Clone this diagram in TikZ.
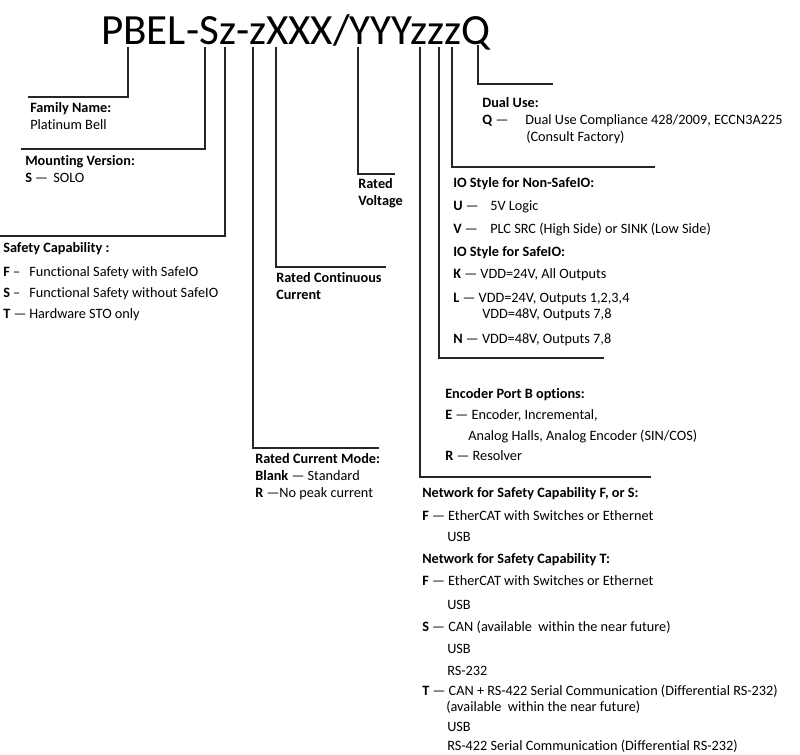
\documentclass[tikz,border=0pt]{standalone}
\usepackage{fontspec}
\setmainfont{Carlito}[Ligatures=CommonOff]
\begin{document}
\begin{tikzpicture}[x=0.75pt, y=-0.75pt,
  lead/.style={line width=1.1pt, black!85},
  txt/.style={anchor=base west, inner sep=0pt, font=\fontsize{10.7}{13}\selectfont},
  head/.style={txt, font=\fontsize{10.7}{13}\selectfont\bfseries}]
  \useasboundingbox (0,0) rectangle (800,754);

  % Typenschluessel
  \node[anchor=base west, inner sep=0pt, font=\fontsize{32.3}{36}\selectfont] (code) at (101,44) {PBEL-Sz-zXXX/YYYzzzQ};

  % Fusspunkte unter den Zeichen
  \coordinate (cP) at (128,47);
  \coordinate (cS) at (205,47);
  \coordinate (cZa) at (225,47);
  \coordinate (cZb) at (253,47);
  \coordinate (cX) at (276,47);
  \coordinate (cY) at (358,47);
  \coordinate (cZc) at (420,47);
  \coordinate (cZd) at (439,47);
  \coordinate (cZe) at (452,47);
  \coordinate (cQ) at (478,45);

  % Enden der Linien
  \coordinate (eP) at (28,97);
  \coordinate (eS) at (21,149);
  \coordinate (eZa) at (0,236);
  \coordinate (eZb) at (379,448);
  \coordinate (eX) at (386,267);
  \coordinate (eY) at (395,174);
  \coordinate (eZc) at (651,477);
  \coordinate (eZd) at (604,358);
  \coordinate (eZe) at (655,167);
  \coordinate (eQ) at (553,84);

  \foreach \c/\e in {cP/eP, cS/eS, cZa/eZa, cZb/eZb, cX/eX, cY/eY, cZc/eZc, cZd/eZd, cZe/eZe, cQ/eQ}
    \draw[lead] (\c) |- (\e);

  % links
  \node[head] (famH) at (30,112) {Family Name:};
  \node[txt] (famA) at (30,129) {Platinum Bell};

  \node[head] (mntH) at (25,165) {Mounting Version:};
  \node[txt] (mntK) at (25,182) {\textbf{S} —};
  \node[txt] (mntA) at (53,182) {SOLO};

  \node[head] (safH) at (3,252) {Safety Capability :};
  \node[txt] (safKf) at (3,276) {\textbf{F} –};
  \node[txt] (safF) at (29,276) {Functional Safety with SafeIO};
  \node[txt] (safKs) at (3,297) {\textbf{S} –};
  \node[txt] (safS) at (29,297) {Functional Safety without SafeIO};
  \node[txt] (safKt) at (3,318) {\textbf{T} —};
  \node[txt] (safT) at (29,318) {Hardware STO only};

  % Mitte
  \node[head] (voltA) at (358,188) {Rated};
  \node[head] (voltB) at (358,205) {Voltage};

  \node[head] (curA) at (276,282) {Rated Continuous};
  \node[head] (curB) at (276,299) {Current};

  \node[head] (modH) at (255,463) {Rated Current Mode:};
  \node[txt] (modB) at (255,480) {\textbf{Blank} — Standard};
  \node[txt] (modR) at (255,497) {\textbf{R} —No peak current};

  % rechts
  \node[head] (dualH) at (482,107) {Dual Use:};
  \node[txt] (dualK) at (482,124) {\textbf{Q} —};
  \node[txt] (dualA) at (525,124) {Dual Use Compliance 428/2009, ECCN3A225};
  \node[txt] (dualB) at (526,141) {(Consult Factory)};

  \node[head] (ioH) at (453,187) {IO Style for Non-SafeIO:};
  \node[txt] (ioKu) at (453,210) {\textbf{U} —};
  \node[txt] (ioU) at (490,210) {5V Logic};
  \node[txt] (ioKv) at (453,233) {\textbf{V} —};
  \node[txt] (ioV) at (490,233) {PLC SRC (High Side) or SINK (Low Side)};
  \node[head] (sioH) at (453,256) {IO Style for SafeIO:};
  \node[txt] (sioK) at (453,278) {\textbf{K} — VDD=24V, All Outputs};
  \node[txt] (sioL) at (453,302) {\textbf{L} — VDD=24V, Outputs 1,2,3,4};
  \node[txt] (sioL2) at (482,318) {VDD=48V, Outputs 7,8};
  \node[txt] (sioN) at (453,343) {\textbf{N} — VDD=48V, Outputs 7,8};

  \node[head] (encH) at (445,398) {Encoder Port B options:};
  \node[txt] (encE) at (445,419) {\textbf{E} — Encoder, Incremental,};
  \node[txt] (encE2) at (468,440) {Analog Halls, Analog Encoder (SIN/COS)};
  \node[txt] (encR) at (445,460) {\textbf{R} — Resolver};

  \node[head] (netH) at (422,497) {Network for Safety Capability F, or S:};
  \node[txt] (netF) at (422,520) {\textbf{F} — EtherCAT with Switches or Ethernet};
  \node[txt] (netFu) at (447,541) {USB};
  \node[head] (nettH) at (422,563) {Network for Safety Capability T:};
  \node[txt] (nettF) at (422,585) {\textbf{F} — EtherCAT with Switches or Ethernet};
  \node[txt] (nettFu) at (447,609) {USB};
  \node[txt] (nettS) at (422,631) {\textbf{S} — CAN (available\ \ within the near future)};
  \node[txt] (nettSu) at (447,653) {USB};
  \node[txt] (nettSr) at (447,675) {RS-232};
  \node[txt] (nettT) at (422,695) {\textbf{T} — CAN + RS-422 Serial Communication (Differential RS-232)};
  \node[txt] (nettT2) at (446,711) {(available\ \ within the near future)};
  \node[txt] (nettTu) at (447,731) {USB};
  \node[txt] (nettTr) at (447,750) {RS-422 Serial Communication (Differential RS-232)};

\end{tikzpicture}
\end{document}
